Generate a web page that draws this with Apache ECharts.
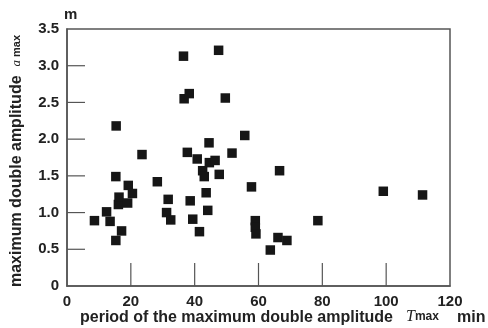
<!DOCTYPE html>
<html>
<head>
<meta charset="utf-8">
<script src="https://cdn.jsdelivr.net/npm/echarts@6/dist/echarts.min.js"></script>
<style>
  html, body { margin: 0; padding: 0; background: #fff; }
  #chart { width: 488px; height: 328px; }
</style>
</head>
<body>
<div id="chart"></div>
<script>
// period of the maximum double amplitude (min)
const periods = [
  8.6, 12.4, 13.5, 15.3, 15.3, 15.4, 16.1, 16.3, 17.1, 19.0, 19.2, 20.5,
  23.5, 28.3, 31.2, 31.7, 32.5, 36.5, 36.7, 37.7, 38.3, 38.6, 39.4, 40.8,
  41.5, 42.5, 43.0, 43.6, 44.1, 44.5, 44.6, 46.4, 47.5, 47.7, 49.6, 51.7,
  55.7, 57.8, 59.0, 59.0, 59.2, 63.7, 66.1, 66.6, 68.9, 78.6, 99.1, 111.4
];
// maximum double amplitude (m)
const amplitudes = [
  0.89, 1.01, 0.88, 0.62, 1.49, 2.18, 1.11, 1.21, 0.75, 1.13, 1.37, 1.26,
  1.79, 1.42, 1.00, 1.18, 0.90, 3.13, 2.55, 1.82, 2.62, 1.16, 0.91, 1.73,
  0.74, 1.57, 1.49, 1.27, 1.03, 1.95, 1.68, 1.71, 3.21, 1.52, 2.56, 1.81,
  2.05, 1.35, 0.89, 0.80, 0.71, 0.49, 0.66, 1.57, 0.62, 0.89, 1.29, 1.24
];
const xTicks = [0, 20, 40, 60, 80, 100, 120];
const yTicks = [0, 0.5, 1.0, 1.5, 2.0, 2.5, 3.0, 3.5];

const chart = echarts.init(document.getElementById('chart'));
const font = 'Liberation Sans, Arial, sans-serif';
const serif = 'Liberation Serif, Times New Roman, serif';
const points = periods.map((p, i) => [p, amplitudes[i]]);

// inner tick marks: [x, y, isYTick]
const tickData = xTicks.slice(1, -1).map(v => [v, 0, 0])
  .concat(yTicks.slice(1, -1).map(v => [0, v, 1]));

chart.setOption({
  animation: false,
  grid: {
    left: 67, right: 38, top: 29, bottom: 42,
    show: true, borderColor: '#555', borderWidth: 1.5
  },
  xAxis: {
    type: 'value',
    min: xTicks[0], max: xTicks[xTicks.length - 1], interval: 20,
    axisLine: { show: true, lineStyle: { color: '#555', width: 1.5 } },
    axisTick: { show: false },
    splitLine: { show: false },
    axisLabel: {
      margin: 8, color: '#222', fontFamily: font, fontWeight: 'bold', fontSize: 15
    }
  },
  yAxis: {
    type: 'value',
    min: yTicks[0], max: yTicks[yTicks.length - 1], interval: 0.5,
    axisLine: { show: true, lineStyle: { color: '#555', width: 1.5 } },
    axisTick: { show: false },
    splitLine: { show: false },
    axisLabel: {
      margin: 8, color: '#222', fontFamily: font, fontWeight: 'bold', fontSize: 15,
      formatter: v => (v === 0 ? '0' : v.toFixed(1))
    }
  },
  series: [
    {
      type: 'custom',
      silent: true,
      data: tickData,
      renderItem: (params, api) => {
        const p = api.coord([api.value(0), api.value(1)]);
        const isY = api.value(2) === 1;
        return {
          type: 'line',
          shape: isY
            ? { x1: p[0], y1: p[1], x2: p[0] + 18, y2: p[1] }
            : { x1: p[0], y1: p[1], x2: p[0], y2: p[1] - 23 },
          style: { stroke: '#555', lineWidth: 1.2 }
        };
      }
    },
    {
      type: 'scatter',
      data: points,
      symbol: 'rect',
      symbolSize: 9.5,
      itemStyle: { color: '#161616', opacity: 1 }
    }
  ],
  graphic: [
    {
      type: 'text', left: 64, top: 7,
      style: { text: 'm', font: 'bold 15px ' + font, fill: '#222' }
    },
    {
      type: 'text', x: 17, y: 161, rotation: Math.PI / 2,
      style: {
        text: '{a|maximum double amplitude  }{b|a}{c| max}',
        align: 'center', verticalAlign: 'middle',
        rich: {
          a: { font: 'bold 16px ' + font, fill: '#222' },
          b: { font: 'italic 13px ' + serif, fill: '#222' },
          c: { font: 'bold 11px ' + font, fill: '#222' }
        }
      }
    },
    {
      type: 'text', x: 80, y: 318,
      style: {
        text: 'period of the maximum double amplitude',
        font: 'bold 16px ' + font, fill: '#222', verticalAlign: 'middle'
      }
    },
    {
      type: 'text', x: 406, y: 317,
      style: {
        text: '{t|T}{m|max}', verticalAlign: 'middle',
        rich: {
          t: { font: 'italic 16px ' + serif, fill: '#222' },
          m: { font: 'bold 12px ' + font, fill: '#222' }
        }
      }
    },
    {
      type: 'text', x: 457, y: 318,
      style: { text: 'min', font: 'bold 16px ' + font, fill: '#222', verticalAlign: 'middle' }
    }
  ]
});
</script>
</body>
</html>
